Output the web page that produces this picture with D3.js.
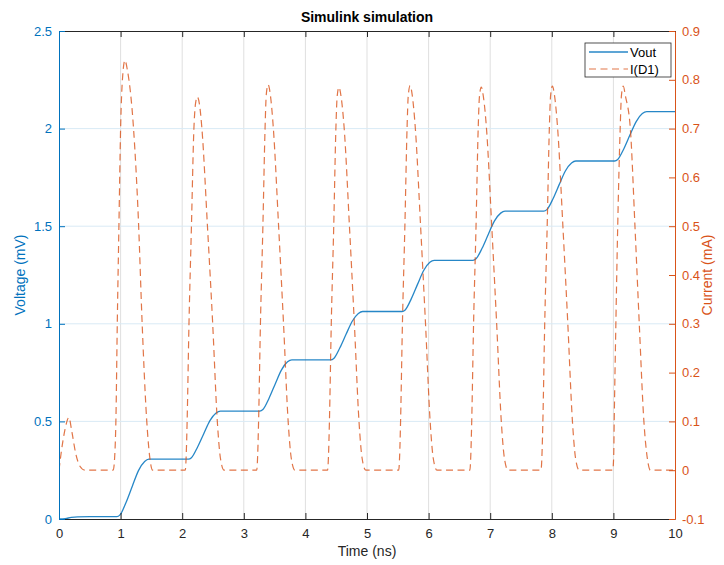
<!DOCTYPE html>
<html>
<head>
<meta charset="utf-8">
<script src="https://cdn.jsdelivr.net/npm/d3@7/dist/d3.min.js"></script>
<style>
  body { margin: 0; background: #fff; }
  svg { font-family: "Liberation Sans", Arial, sans-serif; }
</style>
</head>
<body>
<div id="chart"></div>
<script>
// Vout (mV) against time (ns)
const voutPoints = [
  [0, 0], [0.1, 0.002], [0.2, 0.008], [0.3, 0.011], [0.5, 0.012], [0.94, 0.012],
  [0.99, 0.021], [1.09, 0.086], [1.19, 0.168], [1.29, 0.248], [1.39, 0.295], [1.46, 0.307],
  [2.1, 0.307],
  [2.15, 0.314], [2.25, 0.369], [2.35, 0.437], [2.45, 0.504], [2.55, 0.543], [2.62, 0.553],
  [3.26, 0.553],
  [3.31, 0.561], [3.41, 0.619], [3.51, 0.692], [3.61, 0.763], [3.71, 0.805], [3.78, 0.815],
  [4.41, 0.815],
  [4.46, 0.822], [4.56, 0.877], [4.66, 0.946], [4.76, 1.013], [4.86, 1.053], [4.93, 1.063],
  [5.57, 1.063],
  [5.62, 1.071], [5.72, 1.129], [5.82, 1.202], [5.92, 1.273], [6.02, 1.315], [6.09, 1.325],
  [6.72, 1.325],
  [6.77, 1.333], [6.87, 1.388], [6.97, 1.459], [7.07, 1.527], [7.17, 1.567], [7.24, 1.577],
  [7.87, 1.577],
  [7.92, 1.585], [8.02, 1.641], [8.12, 1.713], [8.22, 1.783], [8.32, 1.824], [8.39, 1.834],
  [9.02, 1.834],
  [9.07, 1.842], [9.17, 1.897], [9.27, 1.968], [9.37, 2.036], [9.47, 2.077], [9.54, 2.087],
  [10, 2.087]
]

// I(D1) (mA) against time (ns)
const currentPoints = [
  [0, 0], [0.04, 0.04], [0.1, 0.085], [0.16, 0.108], [0.21, 0.078], [0.27, 0.035], [0.34, 0.008], [0.42, 0],
  [0.88, 0], [0.905, 0.03], [0.925, 0.11], [0.946, 0.30], [0.974, 0.51], [1.0, 0.70], [1.035, 0.81], [1.07, 0.84],
  [1.11, 0.82], [1.21, 0.70], [1.29, 0.51], [1.35, 0.30], [1.42, 0.11], [1.47, 0.03], [1.52, 0],
  [2.05, 0], [2.065, 0.03], [2.08, 0.1], [2.11, 0.3], [2.15, 0.5], [2.19, 0.7], [2.215, 0.75], [2.245, 0.765],
  [2.28, 0.75], [2.32, 0.7], [2.41, 0.5], [2.495, 0.3], [2.57, 0.1], [2.62, 0.025], [2.68, 0],
  [3.21, 0], [3.225, 0.03], [3.24, 0.1], [3.27, 0.3], [3.31, 0.5], [3.345, 0.7], [3.365, 0.77], [3.395, 0.79],
  [3.43, 0.77], [3.48, 0.7], [3.565, 0.5], [3.645, 0.3], [3.72, 0.1], [3.77, 0.025], [3.83, 0],
  [4.36, 0], [4.375, 0.03], [4.39, 0.1], [4.42, 0.3], [4.46, 0.5], [4.495, 0.7], [4.515, 0.765], [4.545, 0.785],
  [4.58, 0.765], [4.63, 0.7], [4.715, 0.5], [4.795, 0.3], [4.87, 0.1], [4.92, 0.025], [4.98, 0],
  [5.515, 0], [5.53, 0.03], [5.545, 0.1], [5.575, 0.3], [5.615, 0.5], [5.65, 0.7], [5.67, 0.768], [5.70, 0.788],
  [5.735, 0.768], [5.785, 0.7], [5.87, 0.5], [5.95, 0.3], [6.025, 0.1], [6.075, 0.025], [6.135, 0],
  [6.67, 0], [6.685, 0.03], [6.70, 0.1], [6.73, 0.3], [6.77, 0.5], [6.805, 0.7], [6.825, 0.765], [6.855, 0.785],
  [6.89, 0.765], [6.94, 0.7], [7.025, 0.5], [7.105, 0.3], [7.18, 0.1], [7.23, 0.025], [7.29, 0],
  [7.825, 0], [7.84, 0.03], [7.855, 0.1], [7.885, 0.3], [7.925, 0.5], [7.96, 0.7], [7.98, 0.767], [8.01, 0.787],
  [8.045, 0.767], [8.095, 0.7], [8.18, 0.5], [8.26, 0.3], [8.335, 0.1], [8.385, 0.025], [8.445, 0],
  [8.99, 0], [9.005, 0.03], [9.013, 0.1], [9.04, 0.3], [9.07, 0.5], [9.11, 0.7], [9.13, 0.767], [9.16, 0.787],
  [9.195, 0.767], [9.275, 0.7], [9.35, 0.5], [9.42, 0.3], [9.495, 0.1], [9.55, 0.025], [9.6, 0],
  [10, 0]
]

const xTicks = [0, 1, 2, 3, 4, 5, 6, 7, 8, 9, 10]
const leftTicks = [0, 0.5, 1, 1.5, 2, 2.5]
const rightTicks = [-0.1, 0, 0.1, 0.2, 0.3, 0.4, 0.5, 0.6, 0.7, 0.8, 0.9]
const seriesNames = ['Vout', 'I(D1)']

const width = 724, height = 565
const margin = { top: 31, right: 49, bottom: 46, left: 59 }
const innerW = width - margin.left - margin.right
const innerH = height - margin.top - margin.bottom

const blue = '#0072BD'
const orange = '#D95319'
const dark = '#262626'

let svg = d3.select('#chart')
  .append('svg')
  .attr('width', width)
  .attr('height', height)

let g = svg.append('g')
  .attr('transform', `translate(${margin.left},${margin.top})`)

let x = d3.scaleLinear().domain([0, 10]).range([0, innerW])
let yLeft = d3.scaleLinear().domain([0, 2.5]).range([innerH, 0])
let yRight = d3.scaleLinear().domain([-0.1, 0.9]).range([innerH, 0])

let fmt = v => {
  let s = d3.format('~g')(+v.toFixed(2))
  return s.replace('\u2212', '-')
}

// grid
g.append('g')
  .selectAll('line')
  .data(xTicks.slice(1, -1))
  .enter()
    .append('line')
    .attr('x1', d => x(d)).attr('x2', d => x(d))
    .attr('y1', 0).attr('y2', innerH)
    .attr('stroke', '#dfdfdf')
    .attr('stroke-width', 1)

g.append('g')
  .selectAll('line')
  .data(leftTicks.slice(1, -1))
  .enter()
    .append('line')
    .attr('x1', 0).attr('x2', innerW)
    .attr('y1', d => yLeft(d)).attr('y2', d => yLeft(d))
    .attr('stroke', '#d9eaf5')
    .attr('stroke-width', 1)

// lines
svg.append('defs').append('clipPath').attr('id', 'clip')
  .append('rect').attr('width', innerW).attr('height', innerH)

let plot = g.append('g').attr('clip-path', 'url(#clip)')

let voutLine = d3.line()
  .x(d => x(d[0]))
  .y(d => yLeft(d[1]))
  .curve(d3.curveMonotoneX)

let currentLine = d3.line()
  .x(d => x(d[0]))
  .y(d => yRight(d[1]))
  .curve(d3.curveMonotoneX)

plot.append('path')
  .attr('d', voutLine(voutPoints))
  .attr('fill', 'none')
  .attr('stroke', blue)
  .attr('stroke-opacity', 0.85)
  .attr('stroke-width', 1.3)

plot.append('path')
  .attr('d', currentLine(currentPoints))
  .attr('fill', 'none')
  .attr('stroke', orange)
  .attr('stroke-opacity', 0.8)
  .attr('stroke-width', 1.2)
  .attr('stroke-dasharray', '7,4.5')

// axes
let tickLen = 6

let xAxis = g.append('g')
  .attr('transform', `translate(0,${innerH})`)
  .call(d3.axisBottom(x).tickValues(xTicks).tickSizeInner(-tickLen).tickSizeOuter(0).tickPadding(10))
let xTop = g.append('g')
  .call(d3.axisTop(x).tickValues(xTicks).tickSizeInner(-tickLen).tickSizeOuter(0).tickFormat(''))

;[xAxis, xTop].forEach(a => {
  a.select('.domain').attr('stroke', dark)
  a.selectAll('.tick line').attr('stroke', dark)
  a.selectAll('text').attr('fill', dark).attr('font-size', 13).attr('font-family', null)
})

let leftAxis = g.append('g')
  .call(d3.axisLeft(yLeft).tickValues(leftTicks).tickFormat(fmt).tickSizeInner(-tickLen).tickSizeOuter(0).tickPadding(7))
let rightAxis = g.append('g')
  .attr('transform', `translate(${innerW},0)`)
  .call(d3.axisRight(yRight).tickValues(rightTicks).tickFormat(fmt).tickSizeInner(-tickLen).tickSizeOuter(0).tickPadding(7))

;[[leftAxis, blue], [rightAxis, orange]].forEach(([a, c]) => {
  a.select('.domain').attr('stroke', c)
  a.selectAll('.tick line').attr('stroke', c)
  a.selectAll('text').attr('fill', c).attr('font-size', 13).attr('font-family', null)
})

// titles
svg.append('text')
  .attr('x', margin.left + innerW / 2).attr('y', 22)
  .attr('text-anchor', 'middle')
  .attr('font-size', 14).attr('font-weight', 'bold')
  .attr('fill', '#000')
  .text('Simulink simulation')

svg.append('text')
  .attr('x', margin.left + innerW / 2).attr('y', 556)
  .attr('text-anchor', 'middle')
  .attr('font-size', 14)
  .attr('fill', dark)
  .text('Time (ns)')

svg.append('text')
  .attr('transform', `translate(25,${margin.top + innerH / 2}) rotate(-90)`)
  .attr('text-anchor', 'middle')
  .attr('font-size', 14)
  .attr('fill', blue)
  .text('Voltage (mV)')

svg.append('text')
  .attr('transform', `translate(712,${margin.top + innerH / 2}) rotate(-90)`)
  .attr('text-anchor', 'middle')
  .attr('font-size', 14)
  .attr('fill', orange)
  .text('Current (mA)')

// legend
let legend = svg.append('g').attr('transform', 'translate(585,43)')
legend.append('rect')
  .attr('width', 86).attr('height', 34)
  .attr('fill', '#fff')
  .attr('stroke', dark)
  .attr('stroke-width', 0.8)

let legendItems = legend.selectAll('.item')
  .data(seriesNames)
  .enter()
    .append('g')
    .attr('class', 'item')
    .attr('transform', (d, i) => `translate(0,${9 + i * 17})`)

legendItems.append('line')
  .attr('x1', 4).attr('x2', 43)
  .attr('stroke', (d, i) => i ? orange : blue)
  .attr('stroke-opacity', (d, i) => i ? 0.8 : 0.85)
  .attr('stroke-width', (d, i) => i ? 1.2 : 1.3)
  .attr('stroke-dasharray', (d, i) => i ? '7,4.5' : null)

legendItems.append('text')
  .attr('x', 45).attr('dy', '0.35em')
  .attr('font-size', 13)
  .attr('fill', '#000')
  .text(d => d)
</script>
</body>
</html>
